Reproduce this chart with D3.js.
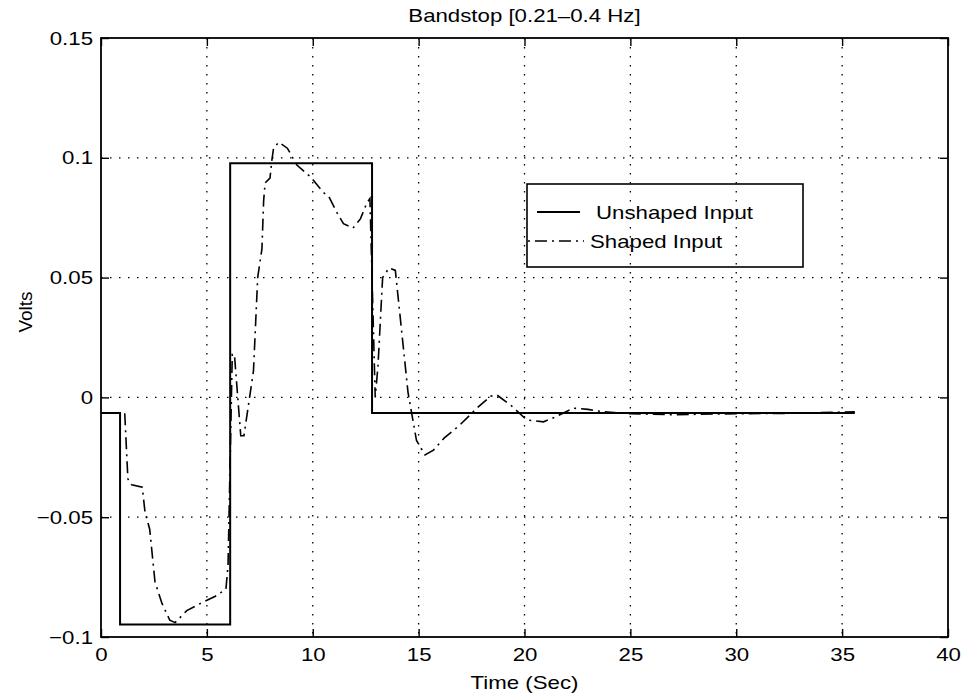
<!DOCTYPE html>
<html>
<head>
<meta charset="utf-8">
<script src="https://cdn.jsdelivr.net/npm/d3@7"></script>
<style>
    body { margin: 0; background: #fff; }
    svg text { font-family: "Liberation Sans", Arial, Helvetica, sans-serif; fill: #000; }
    .grid line { stroke: #000; stroke-width: 1.3; stroke-dasharray: 1.5, 7.5; }
    .axis path { display: none; }
    .axis line { stroke: #000; stroke-width: 1.4; }
</style>
</head>
<body>
<div class="osvg"></div>
<script>
// tick values + labels
var xTicks = [0, 5, 10, 15, 20, 25, 30, 35, 40];
var yTicks = [-0.1, -0.05, 0, 0.05, 0.1, 0.15];
var yTickLabels = ["\u22120.1", "\u22120.05", "0", "0.05", "0.1", "0.15"];

// series: [time (sec), volts]
var unshapedTime = [0, 0.9, 0.9, 6.1, 6.1, 12.8, 12.8, 35.6];
var unshapedVolts = [-0.0065, -0.0065, -0.0948, -0.0948, 0.0977, 0.0977, -0.0065, -0.0065];

var shapedTime = [0, 1.12, 1.27, 1.45, 1.95, 2.08, 2.3, 2.55, 2.88, 3.25, 3.5, 4.05, 4.8, 5.4, 5.9,
    6.0, 6.2, 6.3, 6.6, 6.75, 7.2, 7.4, 7.6, 7.68, 7.75, 7.98, 8.07, 8.15, 8.4, 8.8, 9.25, 9.9,
    10.5, 10.75, 11.15, 11.45, 11.9, 12.25, 12.55, 12.7, 12.95, 13.08, 13.3, 13.6, 13.9, 14.5,
    14.9, 15.3, 15.7, 16.2, 16.95, 17.75, 18.4, 18.7, 19.45, 20.1, 20.9, 21.5, 22.3, 23.0, 23.7,
    25, 27, 30, 33, 35.6];
var shapedVolts = [-0.0065, -0.0065, -0.034, -0.0365, -0.0375, -0.048, -0.055, -0.077, -0.086, -0.093, -0.094, -0.089, -0.0855, -0.083, -0.080,
    -0.07, 0.018, 0.018, -0.016, -0.016, 0.011, 0.05, 0.062, 0.082, 0.0895, 0.0915, 0.099, 0.104, 0.1065, 0.104, 0.097, 0.092,
    0.0855, 0.084, 0.077, 0.0725, 0.0707, 0.0745, 0.081, 0.083, 0.0, 0.013, 0.05, 0.054, 0.053, 0.002,
    -0.018, -0.024, -0.022, -0.017, -0.0115, -0.0045, 0.0005, 0.001, -0.004, -0.0094, -0.0102, -0.008, -0.0045, -0.005, -0.006,
    -0.0068, -0.0072, -0.0068, -0.0066, -0.006];

var seriesNames = ["Unshaped Input", "Shaped Input"];

var unshaped = unshapedTime.map(function (t, i) { return { time: t, v: unshapedVolts[i] }; });
var shaped = shapedTime.map(function (t, i) { return { time: t, v: shapedVolts[i] }; });

var W = 965, H = 695;
var margin = { top: 38, right: 17, bottom: 58, left: 101 };
var width = W - margin.left - margin.right;
var height = H - margin.top - margin.bottom;
var stretch = 1.17;   // the scan is wider than it is tall

// scanned text looks horizontally stretched
function widen(sel, k) {
    sel.each(function () {
        var w = this.getComputedTextLength();
        this.setAttribute('textLength', w * (k || stretch));
        this.setAttribute('lengthAdjust', 'spacingAndGlyphs');
    });
}

var x = d3.scaleLinear().domain([0, 40]).range([0, width]);
var y = d3.scaleLinear().domain([-0.1, 0.15]).range([height, 0]);

var svg = d3.select('.osvg').append('svg')
    .attr('width', W)
    .attr('height', H);

var g = svg.append('g')
    .attr('transform', 'translate(' + margin.left + ',' + margin.top + ')');

// dotted grid
var grid = g.append('g').attr('class', 'grid');
grid.selectAll('.gx')
    .data(xTicks.slice(1, -1))
    .enter().append('line')
    .attr('x1', function (d) { return x(d); })
    .attr('x2', function (d) { return x(d); })
    .attr('y1', 0)
    .attr('y2', height);
grid.selectAll('.gy')
    .data(yTicks.slice(1, -1))
    .enter().append('line')
    .attr('x1', 0)
    .attr('x2', width)
    .attr('y1', function (d) { return y(d); })
    .attr('y2', function (d) { return y(d); });

// axes, ticks pointing inward on all four sides
var xAxis = g.append('g')
    .attr('class', 'axis')
    .attr('transform', 'translate(0,' + height + ')')
    .call(d3.axisBottom(x).tickValues(xTicks).tickSize(-8).tickPadding(11));
xAxis.selectAll('text').style('font-size', '19px');
widen(xAxis.selectAll('text'));

var yAxis = g.append('g')
    .attr('class', 'axis')
    .call(d3.axisLeft(y).tickValues(yTicks)
        .tickFormat(function (d, i) { return yTickLabels[i]; })
        .tickSize(-8).tickPadding(8));
yAxis.selectAll('text').style('font-size', '19px');
widen(yAxis.selectAll('text'));

g.append('g')
    .attr('class', 'axis')
    .call(d3.axisTop(x).tickValues(xTicks).tickSize(-8).tickFormat(''));
g.append('g')
    .attr('class', 'axis')
    .attr('transform', 'translate(' + width + ',0)')
    .call(d3.axisRight(y).tickValues(yTicks).tickSize(-8).tickFormat(''));

g.append('rect')
    .attr('width', width)
    .attr('height', height)
    .attr('fill', 'none')
    .attr('stroke', '#000')
    .attr('stroke-width', 1.8);

var line = d3.line()
    .x(function (d) { return x(d.time); })
    .y(function (d) { return y(d.v); });

g.append('path')
    .datum(unshaped)
    .attr('fill', 'none')
    .attr('stroke', '#000')
    .attr('stroke-width', 2)
    .attr('d', line);

g.append('path')
    .datum(shaped)
    .attr('fill', 'none')
    .attr('stroke', '#000')
    .attr('stroke-width', 1.6)
    .attr('stroke-dasharray', '12,5,2,5')
    .attr('d', line);

// title + axis labels
var title = svg.append('text')
    .attr('x', margin.left + width / 2)
    .attr('y', 22)
    .attr('text-anchor', 'middle')
    .style('font-size', '19px')
    .text('Bandstop [0.21\u20130.4 Hz]');
widen(title);

var xLabel = svg.append('text')
    .attr('x', margin.left + width / 2)
    .attr('y', 689)
    .attr('text-anchor', 'middle')
    .style('font-size', '19px')
    .text('Time (Sec)');
widen(xLabel);

svg.append('text')
    .attr('transform', 'translate(32,312) rotate(-90)')
    .attr('text-anchor', 'middle')
    .style('font-size', '19px')
    .text('Volts');

// legend (transparent box, grid shows through)
var legend = svg.append('g');
legend.append('rect')
    .attr('x', 527).attr('y', 184)
    .attr('width', 276).attr('height', 83)
    .attr('fill', 'none')
    .attr('stroke', '#000')
    .attr('stroke-width', 1.6);
legend.append('line')
    .attr('x1', 537).attr('x2', 580)
    .attr('y1', 212).attr('y2', 212)
    .attr('stroke', '#000').attr('stroke-width', 2);
legend.append('line')
    .attr('x1', 528).attr('x2', 584)
    .attr('y1', 241).attr('y2', 241)
    .attr('stroke', '#000').attr('stroke-width', 1.6)
    .attr('stroke-dasharray', '2,5,12,5');
var lt1 = legend.append('text')
    .attr('x', 596).attr('y', 219)
    .style('font-size', '19px')
    .text(seriesNames[0]);
var lt2 = legend.append('text')
    .attr('x', 590).attr('y', 248)
    .style('font-size', '19px')
    .text(seriesNames[1]);
widen(lt1);
widen(lt2);
</script>
</body>
</html>
